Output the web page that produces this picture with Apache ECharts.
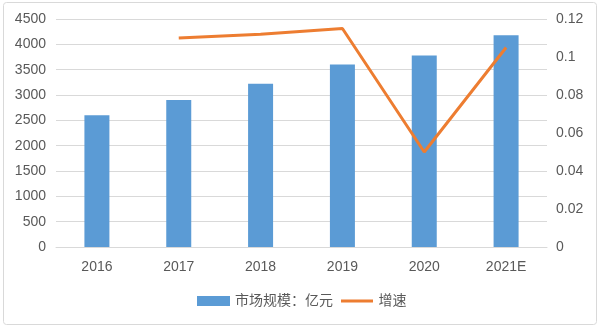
<!DOCTYPE html>
<html><head><meta charset="utf-8">
<script src="https://cdn.jsdelivr.net/npm/echarts@6/dist/echarts.min.js"></script>
<style>html,body{margin:0;padding:0;background:#fff}#c{width:600px;height:328px}</style>
</head><body><div id="c"></div>
<script>
var categories = ['2016','2017','2018','2019','2020','2021E'];
var marketSize = [2600, 2900, 3220, 3600, 3780, 4180];
var growth = [null, 0.110, 0.112, 0.115, 0.050, 0.105];
var leftTicks = {min:0, max:4500, interval:500};
var rightTicks = {min:0, max:0.12, interval:0.02};
var seriesNames = ['市场规模：亿元', '增速'];

var chart = echarts.init(document.getElementById('c'));
var font = '"Liberation Sans", "Noto Sans CJK SC", sans-serif';
chart.setOption({
  animation:false,
  graphic:[{type:'rect', shape:{x:3.5,y:2.5,width:593,height:322,r:3}, style:{fill:'none',stroke:'#d9d9d9',lineWidth:1}}],
  grid:{left:56, right:53, top:19, bottom:81},
  legend:{bottom:15, left:192, itemGap:8, itemWidth:33, itemHeight:10,
    textStyle:{color:'#595959', fontSize:14, fontFamily:font},
    data:[{name:seriesNames[0], icon:'rect'},
          {name:seriesNames[1], icon:'path://M0,0 L0.01,0 Z M0,3.5 L32,3.5 L32,6.5 L0,6.5 Z M0,10 L0.01,10 Z'}]},
  xAxis:{type:'category', data:categories,
    axisLine:{lineStyle:{color:'#d9d9d9'}}, axisTick:{show:false},
    axisLabel:{color:'#595959', fontSize:14, margin:13, fontFamily:font}},
  yAxis:[
    {type:'value', min:leftTicks.min, max:leftTicks.max, interval:leftTicks.interval,
     axisLabel:{color:'#595959', fontSize:14, margin:10, fontFamily:font,
       formatter:function(v){return String(v);}},
     splitLine:{lineStyle:{color:'#d9d9d9'}}},
    {type:'value', min:rightTicks.min, max:rightTicks.max, interval:rightTicks.interval,
     axisLabel:{color:'#595959', fontSize:14, margin:9, fontFamily:font,
       formatter:function(v){return String(+v.toFixed(2));}},
     splitLine:{show:false}}
  ],
  series:[
    {name:seriesNames[0], type:'bar', data:marketSize, barWidth:25,
     itemStyle:{color:'#5b9bd5'}},
    {name:seriesNames[1], type:'line', yAxisIndex:1, data:growth, symbol:'none',
     lineStyle:{color:'#ed7d31', width:3}, itemStyle:{color:'#ed7d31'}}
  ]
});
</script></body></html>
